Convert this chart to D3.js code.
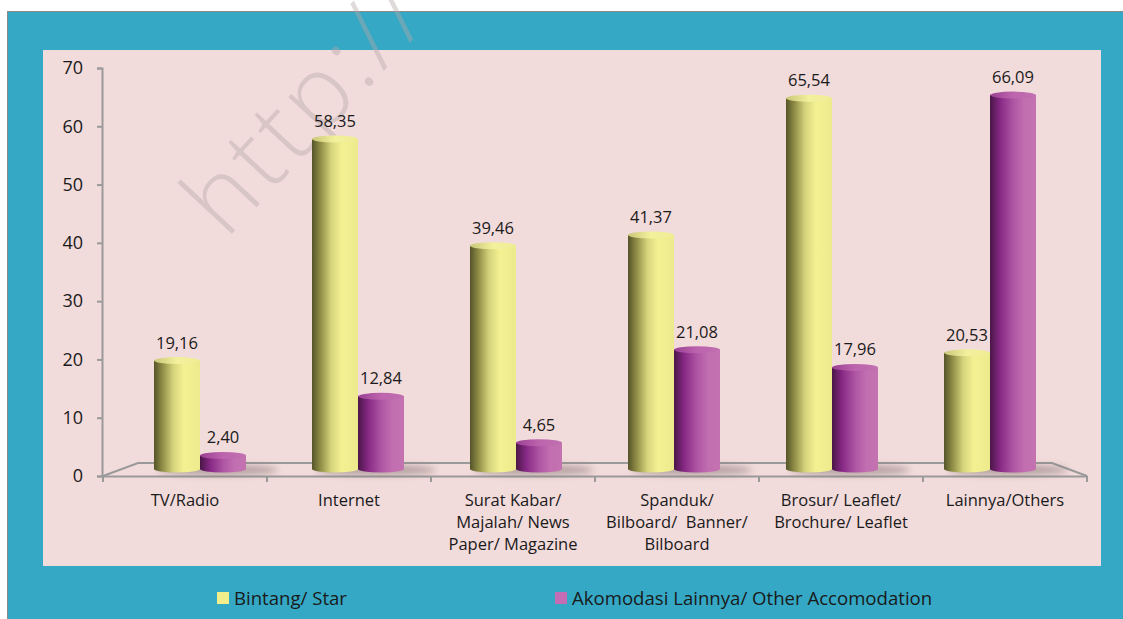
<!DOCTYPE html>
<html>
<head>
<meta charset="utf-8">
<script src="https://cdn.jsdelivr.net/npm/d3@7/dist/d3.min.js"></script>
<style>
  html, body { margin: 0; padding: 0; background: #ffffff; }
  svg { display: block; }
  text { font-family: "Open Sans", "Noto Sans", sans-serif; fill: #1a1a1a; }
</style>
</head>
<body>
<svg id="chart" width="1123" height="619"></svg>
<script>
const categories = [
  ["TV/Radio"],
  ["Internet"],
  ["Surat Kabar/", "Majalah/ News", "Paper/ Magazine"],
  ["Spanduk/", "Bilboard/  Banner/", "Bilboard"],
  ["Brosur/ Leaflet/", "Brochure/ Leaflet"],
  ["Lainnya/Others"]
];
const starValues  = [19.16, 58.35, 39.46, 41.37, 65.54, 20.53];
const otherValues = [2.40, 12.84, 4.65, 21.08, 17.96, 66.09];
const seriesNames = ["Bintang/ Star", "Akomodasi Lainnya/ Other Accomodation"];
const yTicks = [0, 10, 20, 30, 40, 50, 60, 70];
const valueLabel = v => v.toFixed(2).replace(".", ",");

const svg = d3.select("#chart");
const catKeys = categories.map(c => c.join(" "));

// frame
svg.append("rect").attr("x", 7.5).attr("y", 11.5).attr("width", 1120).attr("height", 612)
  .attr("fill", "#34a8c5").attr("stroke", "#8a8a8a").attr("stroke-width", 1);
svg.append("rect").attr("x", 43).attr("y", 50).attr("width", 1058).attr("height", 516)
  .attr("fill", "#f2dbdb");

const defs = svg.append("defs");
function grad(id, stops) {
  const g = defs.append("linearGradient").attr("id", id).attr("x1", "0").attr("x2", "1").attr("y1", "0").attr("y2", "0");
  stops.forEach(s => g.append("stop").attr("offset", s[0]).attr("stop-color", s[1]));
}
grad("gY", [[0, "#55542a"], [0.18, "#8e8c45"], [0.42, "#d6d47c"], [0.65, "#f4f193"], [1, "#ecea8c"]]);
grad("gYt", [[0, "#c9c77a"], [0.5, "#f3f19c"], [1, "#eeec94"]]);
grad("gP", [[0, "#4a1646"], [0.22, "#862985"], [0.5, "#ad55a3"], [0.75, "#c26fb1"], [1, "#c572b1"]]);
grad("gPt", [[0, "#9a3f94"], [0.5, "#bd64ae"], [1, "#c070b0"]]);
const blur = defs.append("filter").attr("id", "blur").attr("x", "-50%").attr("y", "-200%").attr("width", "200%").attr("height", "500%");
blur.append("feGaussianBlur").attr("stdDeviation", 3.5);

// watermark
svg.append("text")
  .attr("transform", "translate(226,240) rotate(-47)")
  .style("font-size", "98px").style("font-weight", 300).style("letter-spacing", "5px")
  .style("fill", "#b4a8a8").style("fill-opacity", 0.42)
  .text("http://");

// scales
const y = d3.scaleLinear().domain([0, 70]).range([476, 68]);
const yBar = d3.scaleLinear().domain([0, 70]).range([469, 73]);
const x = d3.scaleBand().domain(catKeys).range([103, 1087]).padding(0);
const xBar = d3.scaleBand().domain(catKeys).range([121, 1069]).padding(0);
const bw = 46;

// floor
const x0 = x.range()[0], x1 = x.range()[1];
const floorBack = y(0) - 13;
const axisColor = "#9a9a9a";
svg.append("path")
  .attr("d", `M${x0},${y(0)} L${x0 + 35},${floorBack} L${x1 - 35},${floorBack} L${x1},${y(0)}`)
  .attr("fill", "none").attr("stroke", axisColor).attr("stroke-width", 2);

// y axis
const yAxis = d3.axisLeft(y).tickValues(yTicks).tickSize(5).tickPadding(14).tickFormat(d3.format("d"));
const gy = svg.append("g").attr("transform", `translate(${x0 - 1},0)`).call(yAxis);
gy.select(".domain").attr("stroke", axisColor).attr("stroke-width", 2);
gy.selectAll(".tick line").attr("stroke", axisColor).attr("stroke-width", 2);
gy.selectAll(".tick text").style("font-size", "18px").style("font-family", "'Open Sans', sans-serif").attr("fill", "#1a1a1a");

// x axis (front floor edge)
const xAxis = d3.axisBottom(x).tickSize(0).tickFormat("");
const gx = svg.append("g").attr("transform", `translate(0,${y(0)})`).call(xAxis);
gx.select(".domain").attr("stroke", axisColor).attr("stroke-width", 2);
const tickPos = catKeys.map(k => x(k)).concat([x1]);
gx.selectAll("line.ctick").data(tickPos).join("line").attr("class", "ctick")
  .attr("x1", d => d).attr("x2", d => d).attr("y1", 0).attr("y2", 6)
  .attr("stroke", axisColor).attr("stroke-width", 2);

// category labels
const catLabels = svg.append("g");
categories.forEach((lines, i) => {
  const t = catLabels.append("text").attr("text-anchor", "middle").style("font-size", "16.5px").style("white-space", "pre");
  lines.forEach((ln, j) => {
    t.append("tspan").attr("x", x(catKeys[i]) + x.bandwidth() / 2).attr("y", 506 + j * 22).text(ln);
  });
});

// shadows
const bars = svg.append("g");
catKeys.forEach((k, i) => {
  const cx = xBar(k) + xBar.bandwidth() / 2;
  bars.append("ellipse").attr("cx", cx + 18).attr("cy", yBar(0) + 1).attr("rx", bw + 14).attr("ry", 5)
    .attr("fill", "#7a6a6a").attr("opacity", 0.55).attr("filter", "url(#blur)");
});

function cylinder(g, left, v, body, top) {
  const yt = yBar(v), yb = yBar(0), rx = bw / 2, ry = 3.5;
  g.append("path")
    .attr("d", `M${left},${yt} L${left},${yb} A${rx},${ry} 0 0 0 ${left + bw},${yb} L${left + bw},${yt} Z`)
    .attr("fill", `url(#${body})`);
  g.append("ellipse").attr("cx", left + rx).attr("cy", yt).attr("rx", rx).attr("ry", ry)
    .attr("fill", `url(#${top})`);
}

catKeys.forEach((k, i) => {
  const cx = xBar(k) + xBar.bandwidth() / 2;
  cylinder(bars, cx - bw, starValues[i], "gY", "gYt");
  cylinder(bars, cx, otherValues[i], "gP", "gPt");
});

// value labels
const vl = svg.append("g");
catKeys.forEach((k, i) => {
  const cx = xBar(k) + xBar.bandwidth() / 2;
  vl.append("text").attr("text-anchor", "middle").style("font-size", "16.5px")
    .attr("x", cx - bw / 2).attr("y", yBar(starValues[i]) - 12).text(valueLabel(starValues[i]));
  vl.append("text").attr("text-anchor", "middle").style("font-size", "16.5px")
    .attr("x", cx + bw / 2).attr("y", yBar(otherValues[i]) - 12).text(valueLabel(otherValues[i]));
});

// legend
const legend = svg.append("g");
const legendX = [217, 555];
const legendColors = ["#f2ee8c", "#c46cb4"];
seriesNames.forEach((name, i) => {
  legend.append("rect").attr("x", legendX[i]).attr("y", 592).attr("width", 12).attr("height", 12)
    .attr("fill", legendColors[i]);
  legend.append("text").attr("x", legendX[i] + 17).attr("y", 604.5).style("font-size", "18.6px").text(name);
});
</script>
</body>
</html>
